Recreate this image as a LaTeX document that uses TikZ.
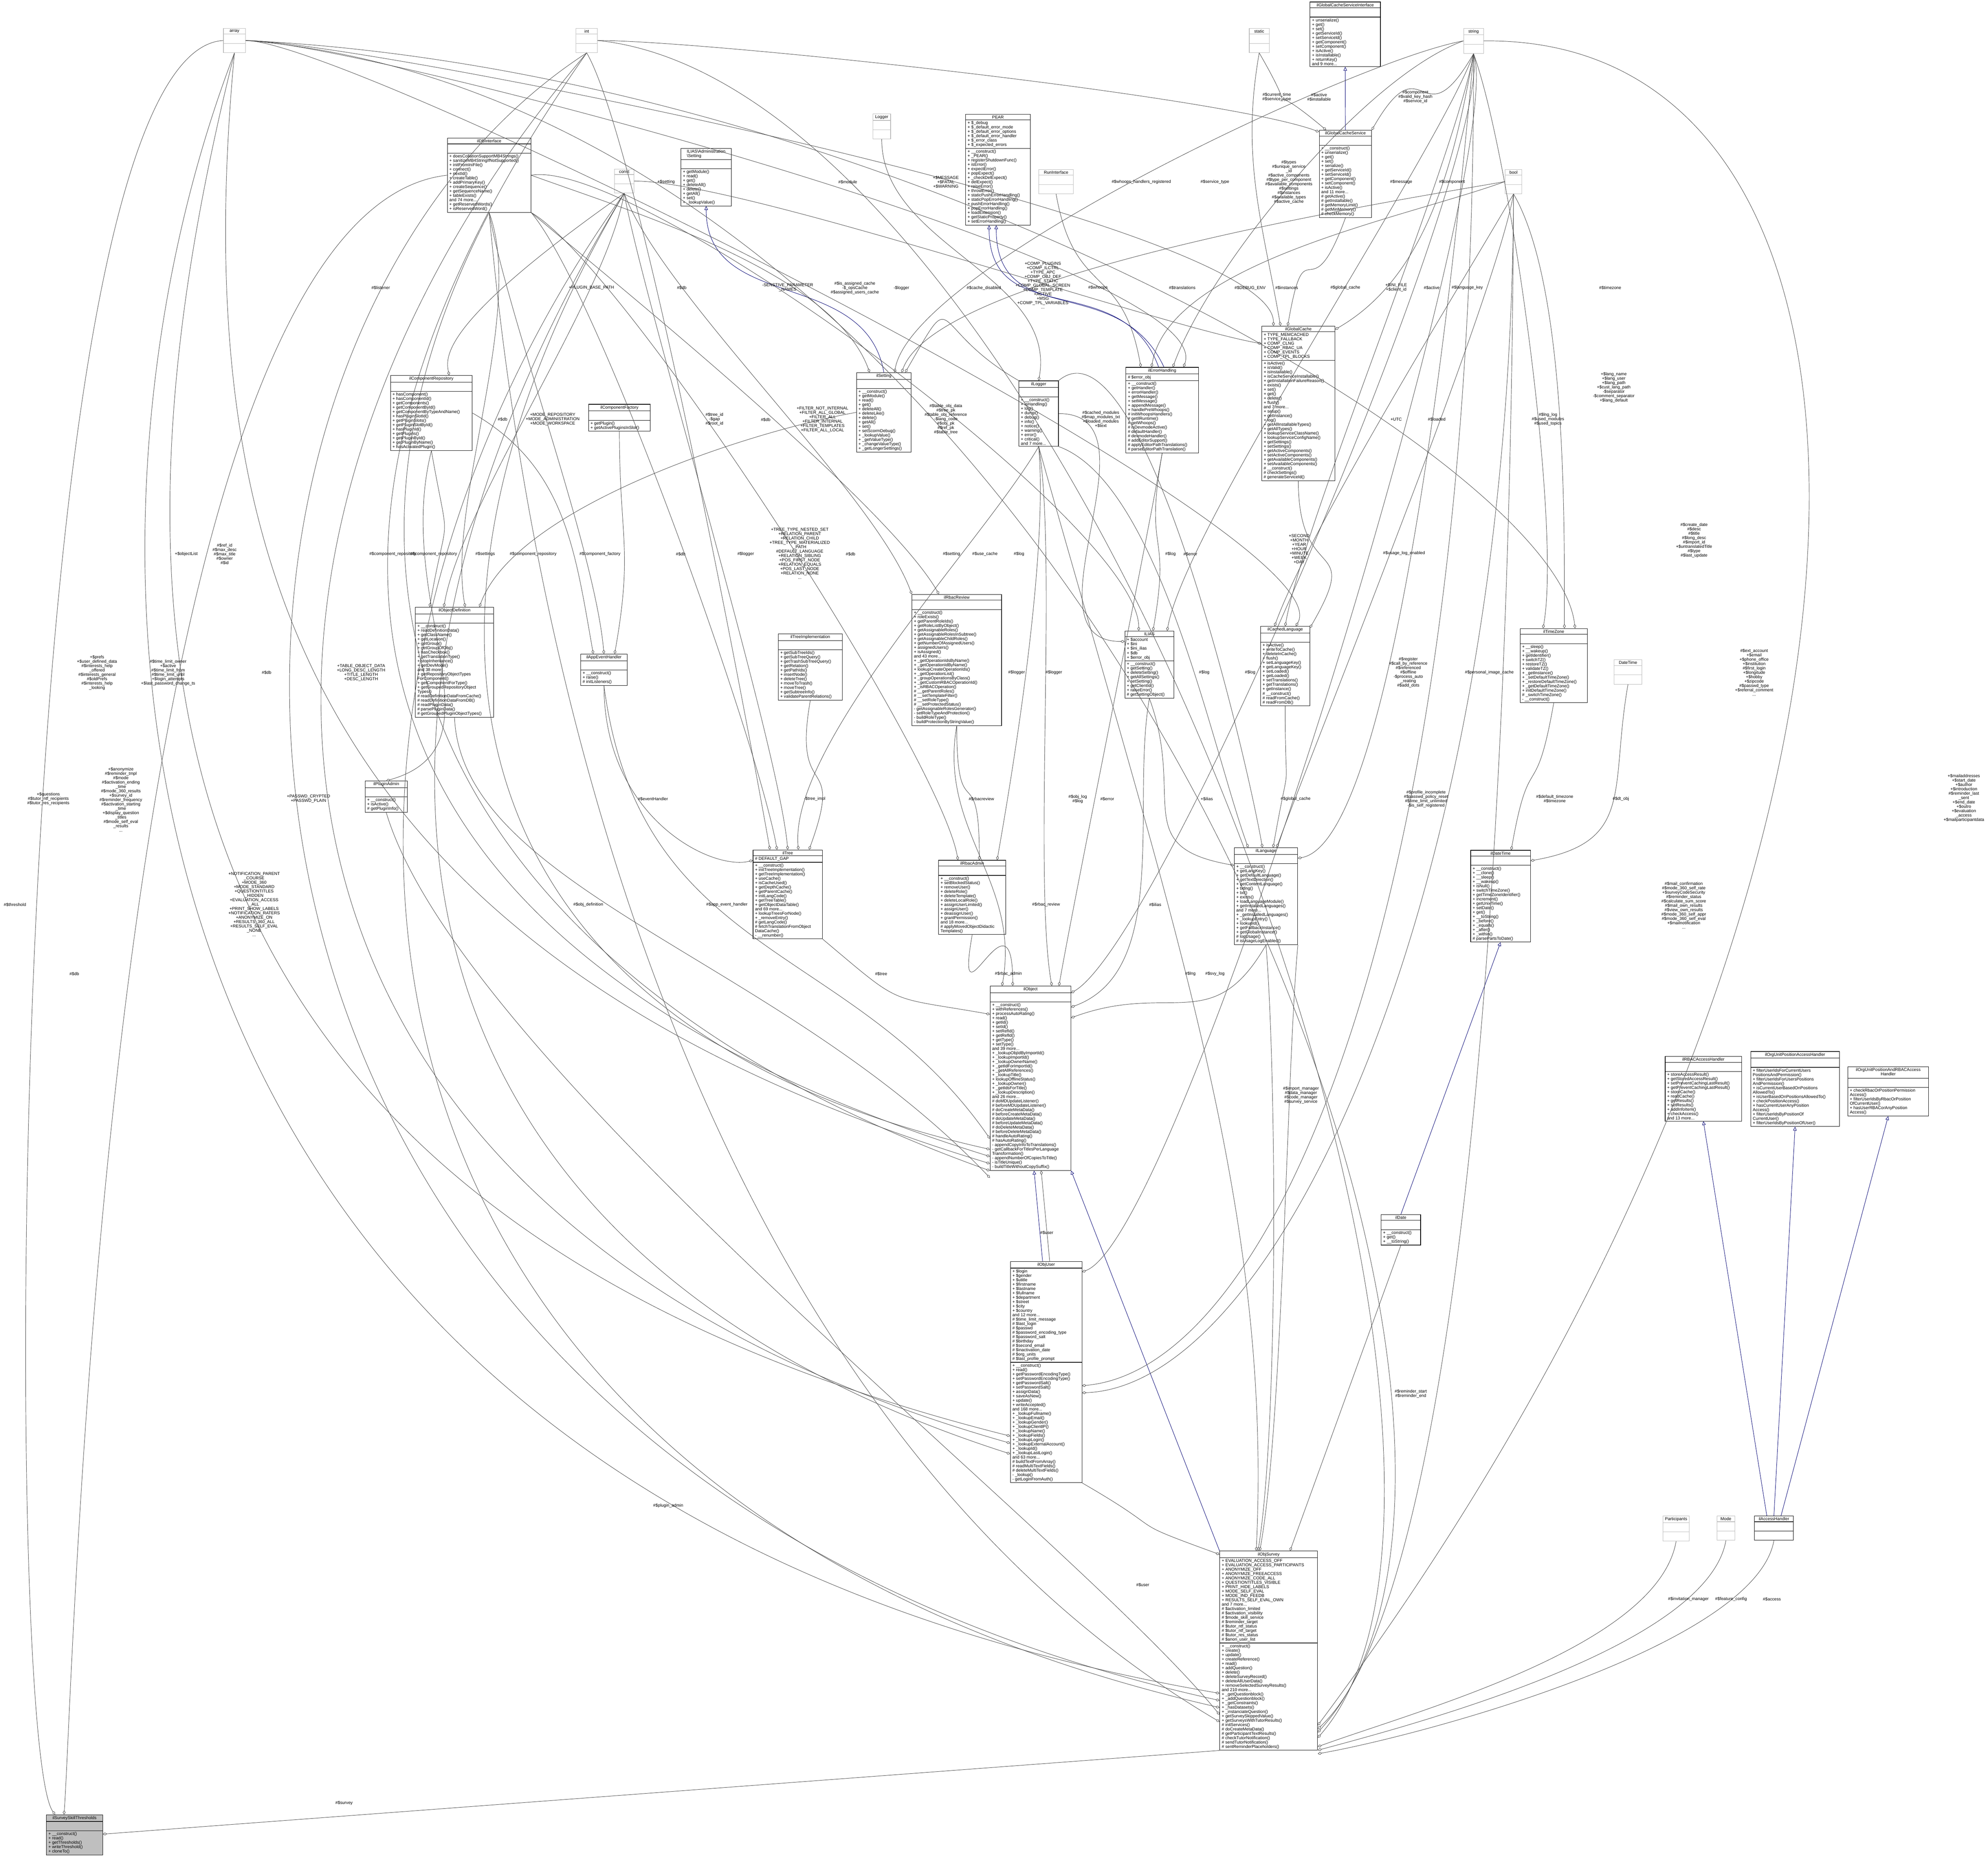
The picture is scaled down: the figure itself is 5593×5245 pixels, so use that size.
\documentclass[tikz,border=0pt]{standalone}
\usepackage{fontspec}
\setmainfont{Liberation Sans}
\usetikzlibrary{shapes.multipart,arrows.meta}
\newcommand\dxf{\fontsize{3.4pt}{3.5pt}\selectfont}
\tikzset{
 cls/.style={rectangle split, rectangle split parts=3, draw=black, line width=0.35pt, align=left,
   rectangle split part align={center,left,left}, inner xsep=1.6pt, inner ysep=0.9pt, font=\dxf,
   anchor=north west, rectangle split empty part height=3.2pt, fill=white},
 gcls/.style={cls, draw=gray!55, rectangle split part align={center,center,center}},
 lbl/.style={font=\dxf, align=center, inner sep=0pt},
 agg/.style={draw=black!72, line width=0.3pt, distance=3cm, -{Diamond[open,length=3.4pt,width=2.2pt]}},
 inh/.style={draw=blue!45!black, line width=0.3pt, distance=3cm, -{Triangle[open,length=3pt,width=2.8pt]}},
}
\begin{document}
\begin{tikzpicture}[x=0.01cm,y=-0.01cm]
\useasboundingbox (0,0) rectangle (5593,5245);
\fill[white] (0,0) rectangle (5593,5245);
\node[gcls,minimum width=0.62cm] (arr) at (628,79) {array\nodepart{two}\nodepart{three}};
\node[gcls,minimum width=0.6cm] (int) at (1620,79) {int\nodepart{two}\nodepart{three}};
\node[gcls,minimum width=0.56cm] (stat) at (3514,79) {static\nodepart{two}\nodepart{three}};
\node[gcls,minimum width=0.56cm] (str) at (4117,79) {string\nodepart{two}\nodepart{three}};
\node[gcls,minimum width=0.47cm] (bool) at (4234,476) {bool\nodepart{two}\nodepart{three}};
\node[gcls,minimum width=0.55cm] (const) at (1728,475) {const\nodepart{two}\nodepart{three}};
\node[gcls,minimum width=0.5cm] (logger) at (2455,320) {Logger\nodepart{two}\nodepart{three}};
\node[gcls,minimum width=0.97cm] (runif) at (2922,476) {RunInterface\nodepart{two}\nodepart{three}};
\node[gcls,minimum width=0.79cm] (datetime) at (4540,1856) {DateTime\nodepart{two}\nodepart{three}};
\node[gcls,minimum width=0.6cm] (parts) at (4678,4265) {Participants\nodepart{two}\nodepart{three}};
\node[gcls,minimum width=0.5cm] (mode) at (4830,4265) {Mode\nodepart{two}\nodepart{three}};
\node[cls,minimum width=1.98cm] (gcsi) at (3685,5) {ilGlobalCacheServiceInterface\nodepart{two}\nodepart{three}+ unserialize()\\+ get()\\+ set()\\+ getServiceId()\\+ setServiceId()\\+ getComponent()\\+ setComponent()\\+ isActive()\\+ isInstallable()\\+ returnKey()\\and 9 more...};
\node[cls,minimum width=1.47cm] (gcs) at (3711,366) {ilGlobalCacheService\nodepart{two}\nodepart{three}+ \_\_construct()\\+ unserialize()\\+ get()\\+ set()\\+ serialize()\\+ getServiceId()\\+ setServiceId()\\+ getComponent()\\+ setComponent()\\+ isActive()\\and 11 more...\\\# getActive()\\\# getInstallable()\\\# getMemoryLimit()\\\# getMinMemory()\\\# checkMemory()};
\node[cls,minimum width=2.06cm] (gc) at (3549,917) {ilGlobalCache\nodepart{two}+ TYPE\_MEMCACHED\\+ TYPE\_FALLBACK\\+ COMP\_CLNG\\+ COMP\_RBAC\_UA\\+ COMP\_EVENTS\\+ COMP\_TPL\_BLOCKS\nodepart{three}+ isActive()\\+ isValid()\\+ isInstallable()\\+ isCacheServiceInstallable()\\+ getInstallationFailureReason()\\+ exists()\\+ set()\\+ get()\\+ delete()\\+ flush()\\and 7 more...\\+ setup()\\+ getInstance()\\+ log()\\+ getAllInstallableTypes()\\+ getAllTypes()\\+ lookupServiceClassName()\\+ lookupServiceConfigName()\\+ getSettings()\\+ setSettings()\\+ getActiveComponents()\\+ setActiveComponents()\\+ getAvailableComponents()\\+ setAvailableComponents()\\\# \_\_construct()\\\# checkSettings()\\\# generateServiceId()};
\node[cls,minimum width=1.82cm] (pear) at (2716,321) {PEAR\nodepart{two}+ \$\_debug\\+ \$\_default\_error\_mode\\+ \$\_default\_error\_options\\+ \$\_default\_error\_handler\\+ \$\_error\_class\\+ \$\_expected\_errors\nodepart{three}+ \_\_construct()\\+ \_PEAR()\\+ registerShutdownFunc()\\+ isError()\\+ expectError()\\+ popExpect()\\+ \_checkDelExpect()\\+ delExpect()\\+ raiseError()\\+ throwError()\\+ staticPushErrorHandling()\\+ staticPopErrorHandling()\\+ pushErrorHandling()\\+ popErrorHandling()\\+ loadExtension()\\+ getStaticProperty()\\+ setErrorHandling()};
\node[cls,minimum width=2.35cm] (dbi) at (1258,388) {ilDBInterface\nodepart{two}\nodepart{three}+ doesCollationSupportMB4Strings()\\+ sanitizeMB4StringIfNotSupported()\\+ initFromIniFile()\\+ connect()\\+ nextId()\\+ createTable()\\+ addPrimaryKey()\\+ createSequence()\\+ getSequenceName()\\+ tableExists()\\and 74 more...\\+ getReservedWords()\\+ isReservedWord()};
\node[cls,minimum width=1.42cm] (admset) at (1915,417) {ILIAS\textbackslash Administration\\\textbackslash Setting\nodepart{two}\nodepart{three}+ getModule()\\+ read()\\+ get()\\+ deleteAll()\\+ delete()\\+ getAll()\\+ set()\\+ \_lookupValue()};
\node[cls,minimum width=1.54cm] (setting) at (2409,1048) {ilSetting\nodepart{two}\nodepart{three}+ \_\_construct()\\+ getModule()\\+ read()\\+ get()\\+ deleteAll()\\+ deleteLike()\\+ delete()\\+ getAll()\\+ set()\\+ setScormDebug()\\+ \_lookupValue()\\+ \_getValueType()\\+ \_changeValueType()\\+ \_getLongerSettings()};
\node[cls,minimum width=1.11cm] (illogger) at (2866,1071) {ilLogger\nodepart{two}\nodepart{three}+ \_\_construct()\\+ isHandling()\\+ log()\\+ dump()\\+ debug()\\+ info()\\+ notice()\\+ warning()\\+ error()\\+ critical()\\and 7 more...};
\node[cls,minimum width=2.04cm] (errh) at (3167,1033) {ilErrorHandling\nodepart{two}\# \$error\_obj\nodepart{three}+ \_\_construct()\\+ getHandler()\\+ errorHandler()\\+ getMessage()\\+ setMessage()\\+ appendMessage()\\+ handlePreWhoops()\\\# initWhoopsHandlers()\\\# getIlRuntime()\\\# getWhoops()\\\# isDevmodeActive()\\\# defaultHandler()\\\# devmodeHandler()\\\# addEditorSupport()\\\# applyEditorPathTranslations()\\\# parseEditorPathTranslation()};
\node[cls,minimum width=2.3cm] (comprep) at (1098,1056) {ilComponentRepository\nodepart{two}\nodepart{three}+ hasComponent()\\+ hasComponentId()\\+ getComponents()\\+ getComponentById()\\+ getComponentByTypeAndName()\\+ hasPluginSlotId()\\+ getPluginSlots()\\+ getPluginSlotById()\\+ hasPluginId()\\+ getPlugins()\\+ getPluginById()\\+ getPluginByName()\\+ hasActivatedPlugin()};
\node[cls,minimum width=1.74cm] (compfac) at (1655,1137) {ilComponentFactory\nodepart{two}\nodepart{three}+ getPlugin()\\+ getActivePluginsInSlot()};
\node[cls,minimum width=2.2cm] (objdef) at (1168,1708) {ilObjectDefinition\nodepart{two}\nodepart{three}+ \_\_construct()\\+ readDefinitionData()\\+ getClassName()\\+ getLocation()\\+ getGroup()\\+ getGroupOfObj()\\+ hasCheckbox()\\+ getTranslationType()\\+ stopInheritance()\\+ getDevMode()\\and 38 more...\\+ getRepositoryObjectTypes\\ForComponent()\\+ getComponentForType()\\+ getGroupedRepositoryObject\\Types()\\\# readDefinitionDataFromCache()\\\# readDefinitionDataFromDB()\\\# readPluginData()\\\# parsePluginData()\\\# getGroupedPluginObjectTypes()};
\node[cls,minimum width=1.31cm] (appev) at (1633,1840) {ilAppEventHandler\nodepart{two}\nodepart{three}+ \_\_construct()\\+ raise()\\\# initListeners()};
\node[cls,minimum width=1.8cm] (treeimpl) at (2189,1783) {ilTreeImplementation\nodepart{two}\nodepart{three}+ getSubTreeIds()\\+ getSubTreeQuery()\\+ getTrashSubTreeQuery()\\+ getRelation()\\+ getPathIds()\\+ insertNode()\\+ deleteTree()\\+ moveToTrash()\\+ moveTree()\\+ getSubtreeInfo()\\+ validateParentRelations()};
\node[cls,minimum width=2.52cm] (rbacrev) at (2565,1672) {ilRbacReview\nodepart{two}\nodepart{three}+ \_\_construct()\\+ roleExists()\\+ getParentRoleIds()\\+ getRoleListByObject()\\+ getAssignableRoles()\\+ getAssignableRolesInSubtree()\\+ getAssignableChildRoles()\\+ getNumberOfAssignedUsers()\\+ assignedUsers()\\+ isAssigned()\\and 43 more...\\+ \_getOperationIdsByName()\\+ \_getOperationIdByName()\\+ lookupCreateOperationIds()\\+ \_getOperationList()\\+ \_groupOperationsByClass()\\+ \_getCustomRBACOperationId()\\+ \_isRBACOperation()\\\# \_\_getParentRoles()\\\# \_\_setTemplateFilter()\\\# \_\_setRoleType()\\\# \_\_setProtectedStatus()\\- getAssignableRolesGenerator()\\- setRoleTypeAndProtection()\\- buildRoleType()\\- buildProtectionByStringValue()};
\node[cls,minimum width=1.95cm] (tree) at (2118,2391) {ilTree\nodepart{two}\# DEFAULT\_GAP\nodepart{three}+ \_\_construct()\\+ initTreeImplementation()\\+ getTreeImplementation()\\+ useCache()\\+ isCacheUsed()\\+ getDepthCache()\\+ getParentCache()\\+ initLangCode()\\+ getTreeTable()\\+ getObjectDataTable()\\and 69 more...\\+ lookupTreesForNode()\\+ \_removeEntry()\\\# getLangCode()\\\# fetchTranslationFromObject\\DataCache()\\- \_\_renumber()};
\node[cls,minimum width=1.89cm] (rbacadm) at (2640,2420) {ilRbacAdmin\nodepart{two}\nodepart{three}+ \_\_construct()\\+ setBlockedStatus()\\+ removeUser()\\+ deleteRole()\\+ deleteTemplate()\\+ deleteLocalRole()\\+ assignUserLimited()\\+ assignUser()\\+ deassignUser()\\+ grantPermission()\\and 18 more...\\\# applyMovedObjectDidactic\\Templates()};
\node[cls,minimum width=1.38cm] (ilias) at (3164,1775) {ILIAS\nodepart{two}+ \$account\\+ \$ini\\+ \$ini\_ilias\\+ \$db\\+ \$error\_obj\nodepart{three}+ \_\_construct()\\+ getSetting()\\+ deleteSetting()\\+ getAllSettings()\\+ setSetting()\\+ getClientId()\\+ raiseError()\\\# getSettingObject()};
\node[cls,minimum width=1.38cm] (cachedlang) at (3546,1762) {ilCachedLanguage\nodepart{two}\nodepart{three}+ isActive()\\+ writeToCache()\\+ deleteInCache()\\+ flush()\\+ setLanguageKey()\\+ getLanguageKey()\\+ setLoaded()\\+ getLoaded()\\+ setTranslations()\\+ getTranslations()\\+ getInstance()\\\# \_\_construct()\\\# readFromCache()\\\# readFromDB()};
\node[cls,minimum width=1.89cm] (tz) at (4276,1768) {ilTimeZone\nodepart{two}\nodepart{three}+ \_\_sleep()\\+ \_\_wakeup()\\+ getIdentifier()\\+ switchTZ()\\+ restoreTZ()\\+ validateTZ()\\+ \_getInstance()\\+ \_setDefaultTimeZone()\\+ \_restoreDefaultTimeZone()\\+ \_getDefaultTimeZone()\\+ initDefaultTimeZone()\\\# \_switchTimeZone()\\- \_\_construct()};
\node[cls,minimum width=1.78cm] (lang) at (3472,2385) {ilLanguage\nodepart{two}\nodepart{three}+ \_\_construct()\\+ getLangKey()\\+ getDefaultLanguage()\\+ getTextDirection()\\+ getContentLanguage()\\+ txtlng()\\+ txt()\\+ exists()\\+ loadLanguageModule()\\+ getInstalledLanguages()\\and 7 more...\\+ \_getInstalledLanguages()\\+ \_lookupEntry()\\+ lookupId()\\+ getFallbackInstance()\\+ getGlobalInstance()\\\# logUsage()\\\# isUsageLogEnabled()};
\node[cls,minimum width=1.68cm] (dt) at (4137,2392) {ilDateTime\nodepart{two}\nodepart{three}+ \_\_construct()\\+ \_\_clone()\\+ \_\_sleep()\\+ \_\_wakeup()\\+ isNull()\\+ switchTimeZone()\\+ getTimeZoneIdentifier()\\+ increment()\\+ getUnixTime()\\+ setDate()\\+ get()\\+ \_\_toString()\\+ \_before()\\+ \_equals()\\+ \_after()\\+ \_within()\\\# parsePartsToDate()};
\node[cls,minimum width=1.11cm] (date) at (3885,3417) {ilDate\nodepart{two}\nodepart{three}+ \_\_construct()\\+ get()\\+ \_\_toString()};
\node[cls,minimum width=2.27cm] (obj) at (2785,2774) {ilObject\nodepart{two}\nodepart{three}+ \_\_construct()\\+ withReferences()\\+ processAutoRating()\\+ read()\\+ getId()\\+ setId()\\+ setRefId()\\+ getRefId()\\+ getType()\\+ setType()\\and 39 more...\\+ \_lookupObjIdByImportId()\\+ \_lookupImportId()\\+ \_lookupOwnerName()\\+ \_getIdForImportId()\\+ \_getAllReferences()\\+ \_lookupTitle()\\+ lookupOfflineStatus()\\+ \_lookupOwner()\\+ \_getIdsForTitle()\\+ \_lookupDescription()\\and 26 more...\\\# doMDUpdateListener()\\\# beforeMDUpdateListener()\\\# doCreateMetaData()\\\# beforeCreateMetaData()\\\# doUpdateMetaData()\\\# beforeUpdateMetaData()\\\# doDeleteMetaData()\\\# beforeDeleteMetaData()\\\# handleAutoRating()\\\# hasAutoRating()\\- appendCopyInfoToTranslations()\\- getCallbackForTitlesPerLanguage\\Transformation()\\- appendNumberOfCopiesToTitle()\\- isTitleUnique()\\- buildTitleWithoutCopySuffix()};
\node[cls,minimum width=2.01cm] (user) at (2842,3549) {ilObjUser\nodepart{two}+ \$login\\+ \$gender\\+ \$utitle\\+ \$firstname\\+ \$lastname\\+ \$fullname\\+ \$department\\+ \$street\\+ \$city\\+ \$country\\and 12 more...\\\# \$time\_limit\_message\\\# \$last\_login\\\# \$passwd\\\# \$password\_encoding\_type\\\# \$password\_salt\\\# \$birthday\\\# \$second\_email\\\# \$inactivation\_date\\\# \$org\_units\\\# \$last\_profile\_prompt\nodepart{three}+ \_\_construct()\\+ read()\\+ getPasswordEncodingType()\\+ setPasswordEncodingType()\\+ getPasswordSalt()\\+ setPasswordSalt()\\+ assignData()\\+ saveAsNew()\\+ update()\\+ writeAccepted()\\and 168 more...\\+ \_lookupFullname()\\+ \_lookupEmail()\\+ \_lookupGender()\\+ \_lookupClientIP()\\+ \_lookupName()\\+ \_lookupFields()\\+ \_lookupLogin()\\+ \_lookupExternalAccount()\\+ \_lookupId()\\+ \_lookupLastLogin()\\and 63 more...\\\# buildTextFromArray()\\\# readMultiTextFields()\\\# deleteMultiTextFields()\\- \_lookup()\\- getLoginFromAuth()};
\node[cls,minimum width=2.75cm] (survey) at (3431,4364) {ilObjSurvey\nodepart{two}+ EVALUATION\_ACCESS\_OFF\\+ EVALUATION\_ACCESS\_PARTICIPANTS\\+ ANONYMIZE\_OFF\\+ ANONYMIZE\_FREEACCESS\\+ ANONYMIZE\_CODE\_ALL\\+ QUESTIONTITLES\_VISIBLE\\+ PRINT\_HIDE\_LABELS\\+ MODE\_SELF\_EVAL\\+ MODE\_IND\_FEEDB\\+ RESULTS\_SELF\_EVAL\_OWN\\and 7 more...\\\# \$activation\_limited\\\# \$activation\_visibility\\\# \$mode\_skill\_service\\\# \$reminder\_target\\\# \$tutor\_ntf\_status\\\# \$tutor\_ntf\_target\\\# \$tutor\_res\_status\\\# \$anon\_user\_list\nodepart{three}+ \_\_construct()\\+ create()\\+ update()\\+ createReference()\\+ read()\\+ addQuestion()\\+ delete()\\+ deleteSurveyRecord()\\+ deleteAllUserData()\\+ removeSelectedSurveyResults()\\and 210 more...\\+ \_getQuestionblock()\\+ \_addQuestionblock()\\+ \_getConstraints()\\+ \_hasDatasets()\\+ \_instanciateQuestion()\\+ getSurveySkippedValue()\\+ getSurveysWithTutorResults()\\\# initServices()\\\# doCreateMetaData()\\\# getParticipantTextResults()\\\# checkTutorNotification()\\\# sendTutorNotification()\\\# sentReminderPlaceholders()};
\node[cls,minimum width=1.18cm] (pluginadmin) at (1027,2197) {ilPluginAdmin\nodepart{two}\nodepart{three}+ \_\_construct()\\+ isActive()\\\# getPluginInfo()};
\node[cls,minimum width=2.15cm] (rbacah) at (4684,2972) {ilRBACAccessHandler\nodepart{two}\nodepart{three}+ storeAccessResult()\\+ getStoredAccessResult()\\+ setPreventCachingLastResult()\\+ getPreventCachingLastResult()\\+ storeCache()\\+ readCache()\\+ getResults()\\+ setResults()\\+ addInfoItem()\\+ checkAccess()\\and 13 more...};
\node[cls,minimum width=2.49cm] (orgah) at (4925,2958) {ilOrgUnitPositionAccessHandler\nodepart{two}\nodepart{three}+ filterUserIdsForCurrentUsers\\PositionsAndPermission()\\+ filterUserIdsForUsersPositions\\AndPermission()\\+ isCurrentUserBasedOnPositions\\AllowedTo()\\+ isUserBasedOnPositionsAllowedTo()\\+ checkPositionAccess()\\+ hasCurrentUserAnyPosition\\Access()\\+ filterUserIdsByPositionOf\\CurrentUser()\\+ filterUserIdsByPositionOfUser()};
\node[cls,minimum width=2.27cm] (orgrbac) at (5198,3001) {\begin{tabular}{@{}c@{}}ilOrgUnitPositionAndRBACAccess\\Handler\end{tabular}\nodepart{two}\nodepart{three}+ checkRbacOrPositionPermission\\Access()\\+ filterUserIdsByRbacOrPosition\\OfCurrentUser()\\+ hasUserRBACorAnyPosition\\Access()};
\node[cls,minimum width=1.1cm] (accessh) at (4935,4265) {ilAccessHandler\nodepart{two}\nodepart{three}};
\node[cls,minimum width=1.58cm,fill=gray!50] (thresh) at (130,5106) {ilSurveySkillThresholds\nodepart{two}\nodepart{three}+ \_\_construct()\\+ read()\\+ getThresholds()\\+ writeThreshold()\\+ cloneTo()};
\draw[inh] (gcs.north) -- (gcsi.south);
\draw[inh] ([xshift=-0.1cm]errh.north) to[out=110,in=-90] ([xshift=-0.25cm]pear.south);
\draw[inh] ([xshift=0.05cm]errh.north) to[out=115,in=-90] ([xshift=-0.05cm]pear.south);
\draw[inh] (setting.north) to[out=100,in=-90] (admset.south);
\draw[inh] ([xshift=-0.1cm]user.north) -- ([xshift=0.1cm]obj.south);
\draw[inh] (survey.north west) -- (obj.south east);
\draw[inh] (date.north) -- (dt.south);
\draw[inh] ([xshift=-0.2cm]accessh.north) -- (rbacah.south);
\draw[inh] (accessh.north) -- (orgah.south);
\draw[inh] ([xshift=0.2cm]accessh.north) -- (orgrbac.south);
\draw[agg] (arr.west) .. controls (10,150) and (6,4900) .. ([xshift=0.25cm]thresh.north west);
\draw[agg] (dbi.west) .. controls (300,600) and (210,4700) .. ([xshift=0.5cm]thresh.north west);
\draw[agg] (survey.south west) -- ([yshift=-0.55cm]thresh.north east);
\draw[agg] (arr.south) .. controls (140,1500) and (150,4200) .. ([yshift=-1.2cm]survey.west);
\draw[agg] (int.south) .. controls (340,1000) and (320,4100) .. ([yshift=-1.4cm]survey.west);
\draw[agg] (arr.south) .. controls (273,1700) and (300,3400) .. ([yshift=-1.8cm]user.west);
\draw[agg] (int.south) .. controls (500,1500) and (520,3400) .. ([yshift=-2.0cm]user.west);
\draw[agg] (const.south) .. controls (715,2000) and (800,4200) .. ([yshift=-1.6cm]survey.west);
\draw[agg] (const.south) .. controls (868,2000) and (1000,3500) .. ([yshift=-2.3cm]user.west);
\draw[agg] (const.south) .. controls (1016,1800) and (1300,2900) .. ([yshift=-2.0cm]obj.west);
\draw[agg] (int.south) .. controls (632,1600) and (1000,2700) .. ([yshift=-2.2cm]obj.west);
\draw[agg] (arr.south) .. controls (524,1600) and (900,2700) .. ([yshift=-2.4cm]obj.west);
\draw[agg] (dbi.south) .. controls (750,1800) and (1400,2800) .. ([yshift=-2.6cm]obj.west);
\draw[agg] (objdef.south) .. controls (1300,2500) and (2200,2700) .. ([yshift=-2.8cm]obj.west);
\draw[agg] (pluginadmin.south) .. controls (1300,3000) and (3000,4300) .. ([yshift=-1.8cm]survey.west);
\draw[agg] (dbi.south) .. controls (1500,2000) and (2000,4000) .. ([yshift=-2.0cm]survey.west);
\draw[agg] (const.south) .. controls (1250,900) and (1252,1000) .. ([xshift=0.5cm]comprep.north);
\draw[agg] (comprep.south) .. controls (1105,1700) and (1430,2100) .. (pluginadmin.north);
\draw[agg] (comprep.south) to[out=-80,in=80] ([xshift=-0.7cm]objdef.north);
\draw[agg] (comprep.east) to[out=-30,in=100] ([xshift=-0.3cm]appev.north);
\draw[agg] (setting.west) to[out=190,in=70] ([xshift=0.7cm]objdef.north);
\draw[agg] (compfac.south) to[out=-90,in=80] ([xshift=0.3cm]appev.north);
\draw[agg] (dbi.south) to[out=-80,in=95] (appev.north);
\draw[agg] (dbi.south) to[out=-70,in=100] ([xshift=0.3cm]objdef.north);
\draw[agg] (const.south) to[out=-100,in=80] ([xshift=-0.3cm]objdef.north);
\draw[agg] (dbi.east) to[out=-20,in=110] ([xshift=-0.4cm]setting.north);
\draw[agg] (int.south) to[out=-60,in=100] ([xshift=-0.5cm]tree.north);
\draw[agg] (dbi.south east) to[out=-50,in=100] ([xshift=-0.3cm]tree.north);
\draw[agg] (const.south) to[out=-70,in=110] (rbacrev.north west);
\draw[agg] (const.south) to[out=-80,in=95] (tree.north);
\draw[agg] (illogger.south) to[out=-120,in=95] ([xshift=0.3cm]tree.north);
\draw[agg] (dbi.south east) to[out=-40,in=120] ([xshift=-0.5cm]rbacrev.north);
\draw[agg] (logger.south) to[out=-90,in=80] (illogger.north);
\draw[agg] (str.west) to[out=190,in=80] ([xshift=0.3cm]setting.north);
\draw[agg] (bool.west) to[out=190,in=70] ([xshift=0.5cm]setting.north);
\draw[agg] (illogger.north west) to[out=150,in=60] ([xshift=0.6cm]setting.north);
\draw[agg] (runif.south) to[out=-80,in=100] ([xshift=-0.6cm]errh.north);
\draw[agg] (bool.west) to[out=200,in=80] ([xshift=-0.3cm]errh.north);
\draw[agg] (str.west) to[out=200,in=70] ([xshift=0.3cm]errh.north);
\draw[agg] (arr.east) to[out=0,in=70] ([xshift=0.6cm]errh.north);
\draw[agg] (int.east) to[out=0,in=160] ([yshift=-0.05cm]gcs.north west);
\draw[agg] (stat.south) to[out=-60,in=140] ([xshift=0.2cm]gcs.north west);
\draw[agg] (str.south) to[out=-120,in=60] (gcs.north east);
\draw[agg] (arr.east) to[out=0,in=90] ([xshift=-0.7cm]gc.north);
\draw[agg] (stat.south) to[out=-100,in=100] ([xshift=-0.5cm]gc.north);
\draw[agg] (gcs.south) to[out=-110,in=80] ([xshift=-0.3cm]gc.north);
\draw[agg] (const.east) to[out=0,in=170] ([yshift=-0.5cm]gc.north west);
\draw[agg] (str.south) to[out=-100,in=30] ([yshift=-0.1cm]gc.north east);
\draw[agg] (str.south) to[out=-110,in=80] ([xshift=0.5cm]ilias.north);
\draw[agg] (bool.south) to[out=-120,in=70] ([xshift=-0.3cm]cachedlang.north);
\draw[agg] (str.south) to[out=-100,in=80] (cachedlang.north);
\draw[agg] (arr.east) to[out=0,in=60] ([xshift=0.3cm]cachedlang.north);
\draw[agg] (gc.south) to[out=-90,in=60] ([yshift=-0.05cm]cachedlang.north east);
\draw[agg] (str.south) to[out=-70,in=80] ([xshift=-0.3cm]tz.north);
\draw[agg] (bool.south) to[out=-60,in=90] ([xshift=0.3cm]tz.north);
\draw[agg] (arr.east) .. controls (2500,200) and (4380,1300) .. ([xshift=0.6cm]tz.north);
\draw[agg] (bool.south) to[out=-100,in=70] ([xshift=0.3cm]lang.north);
\draw[agg] (str.south) to[out=-95,in=10] ([yshift=-0.3cm]lang.north east);
\draw[agg] (cachedlang.south) to[out=-90,in=80] ([xshift=0.2cm]lang.north);
\draw[agg] (ilias.south) to[out=-70,in=170] ([yshift=-0.5cm]lang.north west);
\draw[agg] (illogger.north east) to[out=40,in=100] ([xshift=-0.1cm]lang.north);
\draw[agg] (illogger.south east) to[out=-20,in=110] ([xshift=-0.5cm]lang.north);
\draw[agg] (dbi.east) to[out=10,in=90] ([xshift=-0.3cm]ilias.north);
\draw[agg] (errh.south) to[out=-100,in=80] ([xshift=0.1cm]ilias.north);
\draw[agg] (illogger.east) to[out=0,in=180] ([yshift=-0.3cm]ilias.north west);
\draw[agg] (tz.south) to[out=-100,in=80] ([xshift=0.3cm]dt.north);
\draw[agg] (datetime.south) to[out=-100,in=10] ([yshift=-0.3cm]dt.north east);
\draw[agg] (str.south) to[out=-80,in=30] ([yshift=-0.2cm]obj.north east);
\draw[agg] (str.south) to[out=-70,in=20] ([yshift=-0.3cm]user.north east);
\draw[agg] (str.south) .. controls (4150,2500) and (3600,3850) .. ([yshift=-3.5cm]user.north east);
\draw[agg] (bool.south) .. controls (4250,2500) and (3600,3900) .. ([yshift=-3.7cm]user.north east);
\draw[agg] (str.east) .. controls (5463,100) and (5463,2500) .. ([yshift=-2.1cm]survey.east);
\draw[agg] (bool.south) .. controls (4250,2500) and (4100,4500) .. ([yshift=-2.2cm]survey.east);
\draw[agg] (arr.east) .. controls (3000,300) and (4500,4000) .. ([yshift=-2.3cm]survey.east);
\draw[agg] (int.east) .. controls (3000,250) and (4400,4100) .. ([yshift=-2.45cm]survey.east);
\draw[agg] (illogger.south) to[out=-80,in=100] ([xshift=0.6cm]obj.north);
\draw[agg] (errh.south) to[out=-100,in=80] ([xshift=0.8cm]obj.north);
\draw[agg] (rbacrev.south) to[out=-100,in=80] ([xshift=-0.8cm]obj.north);
\draw[agg] (ilias.south) to[out=-100,in=20] ([yshift=-0.6cm]obj.north east);
\draw[agg] (tree.south east) to[out=-40,in=170] ([yshift=-0.8cm]obj.north west);
\draw[agg] (rbacadm.south) to[out=-100,in=90] ([xshift=-0.5cm]obj.north);
\draw[agg] (lang.south) to[out=-120,in=20] ([yshift=-0.9cm]obj.north east);
\draw[agg] (appev.south) .. controls (1700,2300) and (2000,2450) .. ([yshift=-0.3cm]tree.north west);
\draw[agg] (appev.south) .. controls (1800,2700) and (2400,2650) .. ([yshift=-1.7cm]obj.west);
\draw[agg] (treeimpl.south) to[out=-100,in=70] ([xshift=0.6cm]tree.north);
\draw[agg] (rbacrev.south) to[out=-90,in=90] ([xshift=0.2cm]rbacadm.north);
\draw[agg] (illogger.south) to[out=-85,in=80] ([xshift=0.7cm]rbacadm.north);
\draw[agg] (dbi.south east) to[out=-30,in=100] ([xshift=-0.4cm]rbacadm.north);
\draw[agg] ([xshift=0.1cm]user.north) -- ([xshift=0.3cm]obj.south);
\draw[agg] (lang.south) .. controls (3590,3000) and (3598,4000) .. ([xshift=-0.3cm]survey.north);
\draw[agg] (illogger.south) .. controls (3300,2600) and (3580,3400) .. ([xshift=-0.35cm]survey.north);
\draw[agg] (lang.south east) .. controls (3620,3000) and (3610,4000) .. ([xshift=-0.25cm]survey.north);
\draw[agg] (date.south) -- ([xshift=0.6cm]survey.north);
\draw[agg] (user.south east) to[out=-30,in=160] ([yshift=-0.1cm]survey.north west);
\draw[agg] (parts.south) to[out=-100,in=20] ([yshift=-2.7cm]survey.east);
\draw[agg] (mode.south) to[out=-100,in=15] ([yshift=-2.8cm]survey.east);
\draw[agg] (accessh.south) to[out=-100,in=10] ([yshift=-2.9cm]survey.east);
\node[lbl] at (42,2546) {\#\$threshold};
\node[lbl] at (136,2248) {+\$questions\\\#\$tutor\_ntf\_recipients\\\#\$tutor\_res\_recipients};
\node[lbl] at (273,1893) {+\$prefs\\+\$user\_defined\_data\\\#\$interests\_help\\\_offered\\\#\$interests\_general\\\#\$oldPrefs\\\#\$interests\_help\\\_looking};
\node[lbl] at (473,1893) {\#\$time\_limit\_owner\\+\$active\\\#\$time\_limit\_from\\\#\$time\_limit\_until\\+\$login\_attempts\\+\$last\_password\_change\_ts};
\node[lbl] at (340,2250) {+\$anonymize\\\#\$reminder\_tmpl\\\#\$mode\\\#\$activation\_ending\\\_time\\\#\$mode\_360\_results\\+\$survey\_id\\\#\$reminder\_frequency\\\#\$activation\_starting\\\_time\\+\$display\_question\\\_titles\\\#\$mode\_self\_eval\\\_results\\...};
\node[lbl] at (209,2740) {\#\$db};
\node[lbl] at (524,1559) {+\$objectList};
\node[lbl] at (632,1559) {\#\$ref\_id\\\#\$max\_desc\\\#\$max\_title\\\#\$owner\\\#\$id};
\node[lbl] at (750,1893) {\#\$db};
\node[lbl] at (1016,1893) {+TABLE\_OBJECT\_DATA\\+LONG\_DESC\_LENGTH\\+TITLE\_LENGTH\\+DESC\_LENGTH};
\node[lbl] at (868,2248) {+PASSWD\_CRYPTED\\+PASSWD\_PLAIN};
\node[lbl] at (715,2545) {+NOTIFICATION\_PARENT\\\_COURSE\\+MODE\_360\\+MODE\_STANDARD\\+QUESTIONTITLES\\\_HIDDEN\\+EVALUATION\_ACCESS\\\_ALL\\+PRINT\_SHOW\_LABELS\\+NOTIFICATION\_RATERS\\+ANONYMIZE\_ON\\+RESULTS\_360\_ALL\\+RESULTS\_SELF\_EVAL\\\_NONE\\...};
\node[lbl] at (1105,1559) {\#\$component\_repository};
\node[lbl] at (1220,1559) {\#\$component\_repository};
\node[lbl] at (1365,1559) {\#\$settings};
\node[lbl] at (1500,1559) {\#\$component\_repository};
\node[lbl] at (1688,1559) {\#\$component\_factory};
\node[lbl] at (1915,1559) {\#\$db};
\node[lbl] at (1071,810) {\#\$listener};
\node[lbl] at (1664,810) {+PLUGIN\_BASE\_PATH};
\node[lbl] at (1918,810) {\#\$db};
\node[lbl] at (1874,512) {+\$setting};
\node[lbl] at (1414,1180) {\#\$db};
\node[lbl] at (1555,1180) {+MODE\_REPOSITORY\\+MODE\_ADMINISTRATION\\+MODE\_WORKSPACE};
\node[lbl] at (2010,1180) {\#\$tree\_id\\-\$gap\\\#\$root\_id};
\node[lbl] at (2154,1181) {\#\$db};
\node[lbl] at (2314,1181) {+FILTER\_NOT\_INTERNAL\\+FILTER\_ALL\_GLOBAL\\+FILTER\_ALL\\+FILTER\_INTERNAL\\+FILTER\_TEMPLATES\\+FILTER\_ALL\_LOCAL};
\node[lbl] at (2216,809) {-SENSTIVE\_PARAMETER\\\_NAMES};
\node[lbl] at (2405,811) {\#\$is\_assigned\_cache\\-\$\_opsCache\\\#\$assigned\_users\_cache};
\node[lbl] at (2536,811) {-\$logger};
\node[lbl] at (2385,512) {\#\$module};
\node[lbl] at (2661,512) {+\$MESSAGE\\+\$FATAL\\+\$WARNING};
\node[lbl] at (2768,810) {\#\$cache\_disabled};
\node[lbl] at (2934,803) {+COMP\_PLUGINS\\+COMP\_ILCTRL\\+TYPE\_APC\\+COMP\_OBJ\_DEF\\+TYPE\_STATIC\\+COMP\_GLOBAL\_SCREEN\\+COMP\_TEMPLATE\\+ACTIVE\\+MSG\\+COMP\_TPL\_VARIABLES\\...};
\node[lbl] at (3089,810) {\#\$whoops};
\node[lbl] at (3326,810) {\#\$translations};
\node[lbl] at (3517,810) {\#\$DEBUG\_ENV};
\node[lbl] at (3620,810) {\#\$instances};
\node[lbl] at (3785,810) {\#\$global\_cache};
\node[lbl] at (3928,809) {+\$INI\_FILE\\+\$client\_id};
\node[lbl] at (4028,810) {\#\$active};
\node[lbl] at (4128,810) {\#\$language\_key};
\node[lbl] at (3211,512) {\#\$whoops\_handlers\_registered};
\node[lbl] at (3418,512) {\#\$service\_type};
\node[lbl] at (3626,512) {\#\$types\\\#\$unique\_service\\\_id\\\#\$active\_components\\\#\$type\_per\_component\\\#\$available\_components\\\#\$settings\\\#\$instances\\\#\$available\_types\\\#\$active\_cache};
\node[lbl] at (3942,512) {\#\$message};
\node[lbl] at (4085,512) {\#\$component};
\node[lbl] at (3592,273) {\#\$current\_time\\\#\$service\_type};
\node[lbl] at (3711,273) {\#\$active\\\#\$installable};
\node[lbl] at (3982,273) {\#\$component\\\#\$valid\_key\_hash\\\#\$service\_id};
\node[lbl] at (3928,1180) {+UTC};
\node[lbl] at (4042,1180) {\#\$loaded};
\node[lbl] at (4355,1180) {\#\$lng\_log\\\#\$used\_modules\\\#\$used\_topics};
\node[lbl] at (4540,1090) {+\$lang\_name\\+\$lang\_user\\+\$lang\_path\\+\$cust\_lang\_path\\-\$separator\\-\$comment\_separator\\+\$lang\_default};
\node[lbl] at (4530,810) {\#\$timezone};
\node[lbl] at (2661,1180) {\#\$table\_obj\_data\\\#\$tree\_pk\\\#\$table\_obj\_reference\\-\$lang\_code\\\#\$obj\_pk\\\#\$ref\_pk\\\#\$table\_tree};
\node[lbl] at (3097,1180) {\#\$cached\_modules\\\#\$map\_modules\_txt\\+\$loaded\_modules\\+\$text};
\node[lbl] at (2250,1557) {+TREE\_TYPE\_NESTED\_SET\\+RELATION\_PARENT\\+RELATION\_CHILD\\+TREE\_TYPE\_MATERIALIZED\\\_PATH\\\#DEFAULT\_LANGUAGE\\+RELATION\_SIBLING\\+POS\_FIRST\_NODE\\+RELATION\_EQUALS\\+POS\_LAST\_NODE\\+RELATION\_NONE\\...};
\node[lbl] at (2098,1559) {\#\$logger};
\node[lbl] at (2393,1559) {\#\$db};
\node[lbl] at (2677,1559) {\#\$setting};
\node[lbl] at (2771,1559) {\#\$use\_cache};
\node[lbl] at (2867,1559) {\#\$log};
\node[lbl] at (3293,1559) {\#\$log};
\node[lbl] at (3349,1559) {\#\$error};
\node[lbl] at (3655,1545) {+SECOND\\+MONTH\\+YEAR\\+HOUR\\+MINUTE\\+WEEK\\+DAY};
\node[lbl] at (3950,1557) {\#\$usage\_log\_enabled};
\node[lbl] at (4766,1520) {\#\$create\_date\\\#\$desc\\\#\$title\\\#\$long\_desc\\\#\$import\_id\\+\$untranslatedTitle\\\#\$type\\\#\$last\_update};
\node[lbl] at (2860,1892) {\#\$logger};
\node[lbl] at (2965,1892) {\#\$logger};
\node[lbl] at (3388,1892) {\#\$log};
\node[lbl] at (3517,1892) {\#\$log};
\node[lbl] at (3962,1892) {\#\$register\\\#\$call\_by\_reference\\\#\$referenced\\\#\$offline\\-\$process\_auto\\\_reating\\\#\$add\_dots};
\node[lbl] at (4190,1892) {\#\$personal\_image\_cache};
\node[lbl] at (4935,1892) {\#\$ext\_account\\+\$email\\+\$phone\_office\\+\$institution\\\#\$first\_login\\+\$longitude\\+\$hobby\\+\$zipcode\\\#\$passwd\_type\\+\$referral\_comment\\...};
\node[lbl] at (1837,2248) {\#\$eventHandler};
\node[lbl] at (2292,2248) {-\$tree\_impl};
\node[lbl] at (2761,2248) {\#\$rbacreview};
\node[lbl] at (3032,2248) {\#\$obj\_log\\\#\$log};
\node[lbl] at (3115,2248) {\#\$error};
\node[lbl] at (3395,2248) {+\$ilias};
\node[lbl] at (3645,2248) {\#\$global\_cache};
\node[lbl] at (4012,2248) {\#\$profile\_incomplete\\\#\$passwd\_policy\_reset\\\#\$time\_limit\_unlimited\\-\$is\_self\_registered};
\node[lbl] at (4374,2248) {\#\$default\_timezone\\\#\$timezone};
\node[lbl] at (4560,2248) {\#\$dt\_obj};
\node[lbl] at (5525,2246) {+\$mailaddresses\\+\$start\_date\\+\$author\\+\$introduction\\\#\$reminder\_last\\\_sent\\+\$end\_date\\+\$outro\\+\$evaluation\\\_access\\+\$mailparticipantdata};
\node[lbl] at (4737,2548) {\#\$mail\_confirmation\\\#\$mode\_360\_self\_rate\\+\$surveyCodeSecurity\\\#\$reminder\_status\\\#\$calculate\_sum\_score\\\#\$mail\_own\_results\\\#\$view\_own\_results\\\#\$mode\_360\_self\_appr\\\#\$mode\_360\_self\_eval\\+\$mailnotification\\...};
\node[lbl] at (1655,2546) {\#\$obj\_definition};
\node[lbl] at (2045,2546) {\#\$app\_event\_handler};
\node[lbl] at (2943,2546) {\#\$rbac\_review};
\node[lbl] at (3250,2546) {\#\$ilias};
\node[lbl] at (2479,2740) {\#\$tree};
\node[lbl] at (2837,2740) {\#\$rbac\_admin};
\node[lbl] at (3349,2740) {\#\$lng};
\node[lbl] at (3418,2740) {\#\$svy\_log};
\node[lbl] at (2945,3469) {\#\$user};
\node[lbl] at (3660,3082) {\#\$import\_manager\\\#\$data\_manager\\\#\$code\_manager\\\#\$survey\_service};
\node[lbl] at (3969,3922) {\#\$reminder\_start\\\#\$reminder\_end};
\node[lbl] at (1880,4237) {\#\$plugin\_admin};
\node[lbl] at (3215,4460) {\#\$user};
\node[lbl] at (4750,4500) {\#\$invitation\_manager};
\node[lbl] at (4870,4500) {\#\$feature\_config};
\node[lbl] at (4985,4500) {\#\$access};
\node[lbl] at (968,5074) {\#\$survey};
\end{tikzpicture}
\end{document}
